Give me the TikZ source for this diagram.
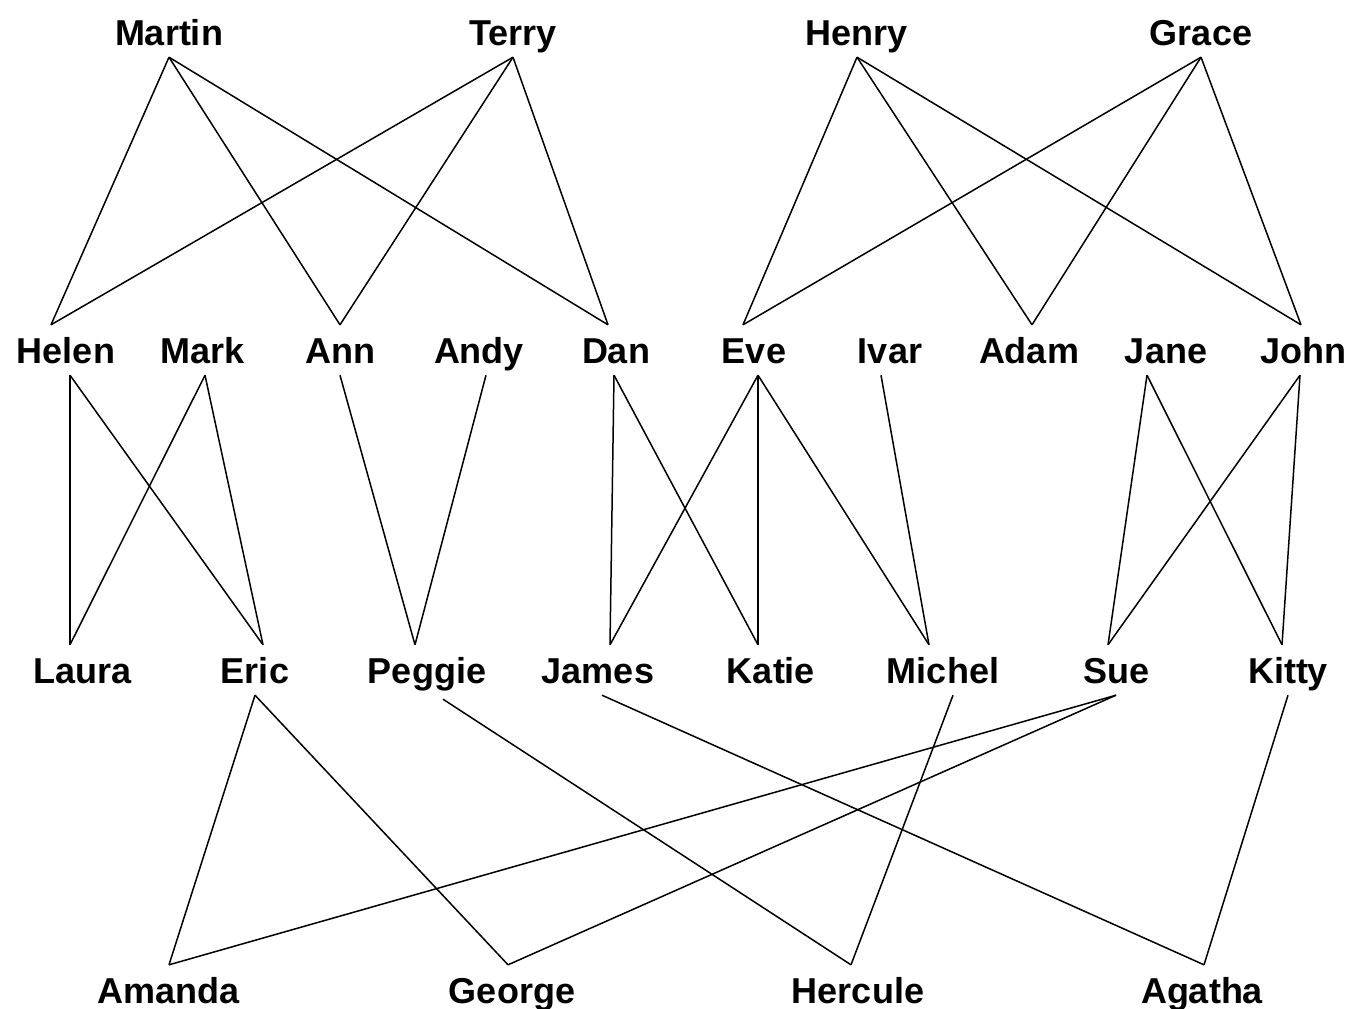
\documentclass[tikz,border=0pt]{standalone}
\usepackage{fontspec}
\setmainfont{Liberation Sans}

\begin{document}
\begin{tikzpicture}[
  x=1pt, y=-1pt,
  person/.style={font=\fontsize{36}{40}\selectfont\bfseries, text height=26pt, text depth=0pt, minimum height=50pt, inner sep=0pt, anchor=center},
  link/.style={line width=1.5pt},
]
  \useasboundingbox (0,0) rectangle (1349,1009);

  % first generation
  \node[person] (martin) at (169,32) {Martin};
  \node[person] (terry) at (513,32) {Terry};
  \node[person] (henry) at (857,32) {Henry};
  \node[person] (grace) at (1201,32) {Grace};

  % second generation
  \node[person] (helen) at (66,350) {Helen};
  \node[person] (mark) at (203,350) {Mark};
  \node[person] (ann) at (340,350) {Ann};
  \node[person] (andy) at (479,350) {Andy};
  \node[person] (dan) at (616,350) {Dan};
  \node[person] (eve) at (754,350) {Eve};
  \node[person] (ivar) at (890,350) {Ivar};
  \node[person] (adam) at (1029,350) {Adam};
  \node[person] (jane) at (1166,350) {Jane};
  \node[person] (john) at (1303,350) {John};

  % third generation
  \node[person] (laura) at (83,670) {Laura};
  \node[person] (eric) at (255,670) {Eric};
  \node[person] (peggie) at (427,670) {Peggie};
  \node[person] (james) at (598,670) {James};
  \node[person] (katie) at (771,670) {Katie};
  \node[person] (michel) at (943,670) {Michel};
  \node[person] (sue) at (1116,670) {Sue};
  \node[person] (kitty) at (1288,670) {Kitty};

  % fourth generation
  \node[person] (amanda) at (169,990) {Amanda};
  \node[person] (george) at (512,990) {George};
  \node[person] (hercule) at (858,990) {Hercule};
  \node[person] (agatha) at (1202,990) {Agatha};

  % parents -> children
  \draw[link] (martin.south) -- ([xshift=-15pt]helen.north);
  \draw[link] (martin.south) -- (ann.north);
  \draw[link] (martin.south) -- ([xshift=-8pt]dan.north);
  \draw[link] (terry.south) -- ([xshift=-15pt]helen.north);
  \draw[link] (terry.south) -- (ann.north);
  \draw[link] (terry.south) -- ([xshift=-8pt]dan.north);
  \draw[link] (henry.south) -- ([xshift=-11pt]eve.north);
  \draw[link] (henry.south) -- ([xshift=3pt]adam.north);
  \draw[link] (henry.south) -- ([xshift=-2pt]john.north);
  \draw[link] (grace.south) -- ([xshift=-11pt]eve.north);
  \draw[link] (grace.south) -- ([xshift=3pt]adam.north);
  \draw[link] (grace.south) -- ([xshift=-2pt]john.north);

  \draw[link] ([xshift=4pt]helen.south) -- ([xshift=-13pt]laura.north);
  \draw[link] ([xshift=4pt]helen.south) -- ([xshift=8pt]eric.north);
  \draw[link] ([xshift=2pt]mark.south) -- ([xshift=-13pt]laura.north);
  \draw[link] ([xshift=2pt]mark.south) -- ([xshift=8pt]eric.north);
  \draw[link] (ann.south) -- ([xshift=-12pt]peggie.north);
  \draw[link] ([xshift=7pt]andy.south) -- ([xshift=-12pt]peggie.north);
  \draw[link] ([xshift=-2pt]dan.south) -- ([xshift=12pt]james.north);
  \draw[link] ([xshift=-2pt]dan.south) -- ([xshift=-13pt]katie.north);
  \draw[link] ([xshift=4pt]eve.south) -- ([xshift=12pt]james.north);
  \draw[link] ([xshift=4pt]eve.south) -- ([xshift=-13pt]katie.north);
  \draw[link] ([xshift=4pt]eve.south) -- ([xshift=-14pt]michel.north);
  \draw[link] ([xshift=-9pt]ivar.south) -- ([xshift=-14pt]michel.north);
  \draw[link] ([xshift=-19pt]jane.south) -- ([xshift=-8pt]sue.north);
  \draw[link] ([xshift=-19pt]jane.south) -- ([xshift=-6pt]kitty.north);
  \draw[link] ([xshift=-3pt]john.south) -- ([xshift=-8pt]sue.north);
  \draw[link] ([xshift=-3pt]john.south) -- ([xshift=-6pt]kitty.north);

  \draw[link] (eric.south) -- (amanda.north);
  \draw[link] (eric.south) -- ([xshift=-4pt]george.north);
  \draw[link] ([xshift=16pt,yshift=-4pt]peggie.south) -- ([xshift=-7pt]hercule.north);
  \draw[link] ([xshift=4pt]james.south) -- ([xshift=2pt]agatha.north);
  \draw[link] ([xshift=10pt]michel.south) -- ([xshift=-7pt]hercule.north);
  \draw[link] (sue.south) -- (amanda.north);
  \draw[link] (sue.south) -- ([xshift=-4pt]george.north);
  \draw[link] (kitty.south) -- ([xshift=2pt]agatha.north);

\end{tikzpicture}
\end{document}
